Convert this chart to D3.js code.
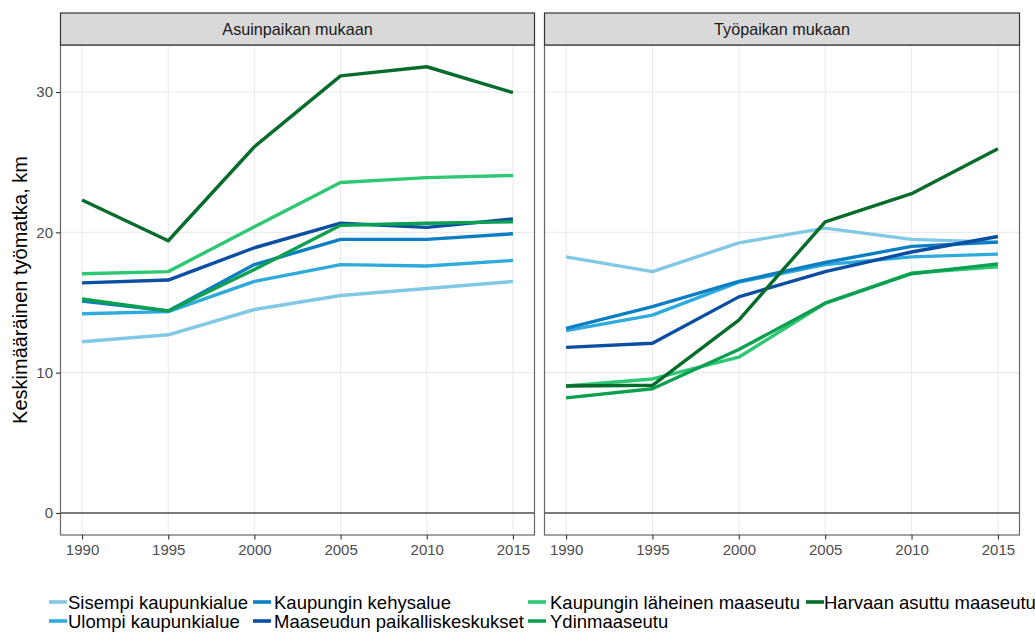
<!DOCTYPE html>
<html><head><meta charset="utf-8">
<script src="https://cdn.jsdelivr.net/npm/d3@7"></script>
<style>body{margin:0;background:#fff;} svg{display:block;font-family:"Liberation Sans",Arial,sans-serif;}</style>
</head><body>
<svg id="c" width="1035" height="633"></svg>
<script>
const years = [1990, 1995, 2000, 2005, 2010, 2015];
const panels = ["Asuinpaikan mukaan", "Työpaikan mukaan"];
const categories = ["Sisempi kaupunkialue", "Ulompi kaupunkialue", "Kaupungin kehysalue",
  "Maaseudun paikalliskeskukset", "Kaupungin läheinen maaseutu", "Ydinmaaseutu", "Harvaan asuttu maaseutu"];
const colors = ["#80C8E4", "#2EABDC", "#0C7FC4", "#0B4EA2", "#2EC773", "#0BA04F", "#066C2B"];
const yTicks = [0, 10, 20, 30];
// Asuinpaikan mukaan
const residence = [
  [12.2, 12.7, 14.5, 15.5, 16.0, 16.5],
  [14.2, 14.35, 16.5, 17.7, 17.6, 18.0],
  [15.1, 14.4, 17.7, 19.5, 19.5, 19.9],
  [16.4, 16.6, 18.9, 20.65, 20.35, 20.95],
  [17.05, 17.2, 20.4, 23.55, 23.9, 24.05],
  [15.25, 14.4, 17.35, 20.5, 20.65, 20.75],
  [22.3, 19.4, 26.1, 31.15, 31.8, 29.95]
];
// Työpaikan mukaan
const workplace = [
  [18.25, 17.2, 19.25, 20.3, 19.5, 19.3],
  [13.0, 14.1, 16.45, 17.7, 18.25, 18.45],
  [13.15, 14.7, 16.5, 17.85, 19.0, 19.3],
  [11.8, 12.1, 15.4, 17.2, 18.6, 19.7],
  [9.05, 9.55, 11.1, 14.95, 17.1, 17.55],
  [8.2, 8.85, 11.65, 14.95, 17.05, 17.75],
  [9.05, 9.1, 13.75, 20.75, 22.75, 25.95]
];
const panelData = [residence, workplace];

const svg = d3.select("#c");
const pTop = 45, pBottom = 535, stripTop = 13;
const panelX = [[60.5, 534.5], [544.5, 1019.5]];
const y = d3.scaleLinear().domain([-1.57, 33.35]).range([pBottom, pTop]);

panelX.forEach((px, pi) => {
  const x = d3.scaleLinear().domain([1988.75, 2016.25]).range(px);
  const g = svg.append("g");
  g.append("rect").attr("x", px[0]).attr("y", pTop).attr("width", px[1]-px[0]).attr("height", pBottom-pTop).attr("fill", "#fff");
  g.selectAll(".gy").data(yTicks).join("line").attr("x1", px[0]).attr("x2", px[1])
    .attr("y1", d => y(d)).attr("y2", d => y(d)).attr("stroke", "#EBEBEB").attr("stroke-width", 1.1);
  g.selectAll(".gx").data(years).join("line").attr("y1", pTop).attr("y2", pBottom)
    .attr("x1", d => x(d)).attr("x2", d => x(d)).attr("stroke", "#EBEBEB").attr("stroke-width", 1.1);
  g.append("line").attr("x1", px[0]).attr("x2", px[1]).attr("y1", y(0)).attr("y2", y(0)).attr("stroke", "#000").attr("stroke-width", 1.1);
  const line = d3.line().x((d, i) => x(years[i])).y(d => y(d));
  panelData[pi].forEach((s, si) => {
    g.append("path").attr("d", line(s)).attr("fill", "none").attr("stroke", colors[si])
      .attr("stroke-width", 3.4).attr("stroke-linejoin", "round").attr("stroke-linecap", "butt");
  });
  g.append("rect").attr("x", px[0]).attr("y", pTop).attr("width", px[1]-px[0]).attr("height", pBottom-pTop)
    .attr("fill", "none").attr("stroke", "#666").attr("stroke-width", 1.2);
  g.append("rect").attr("x", px[0]).attr("y", stripTop).attr("width", px[1]-px[0]).attr("height", pTop-stripTop)
    .attr("fill", "#D9D9D9").attr("stroke", "#333").attr("stroke-width", 1.2);
  g.append("text").attr("x", (px[0]+px[1])/2).attr("y", (stripTop+pTop)/2).attr("dy", "0.36em")
    .attr("text-anchor", "middle").attr("font-size", 16.2).attr("fill", "#1A1A1A").text(panels[pi]);
  const xa = g.append("g").attr("transform", `translate(0,${pBottom})`)
    .call(d3.axisBottom(x).tickValues(years).tickFormat(d3.format("d")).tickSize(4.5).tickPadding(5));
  xa.select(".domain").remove();
  xa.selectAll("line").attr("stroke", "#333").attr("stroke-width", 1.1);
  xa.selectAll("text").attr("font-size", 15).attr("fill", "#4D4D4D").attr("font-family", "Liberation Sans, Arial, sans-serif");
  if (pi === 0) {
    const ya = g.append("g").attr("transform", `translate(${px[0]},0)`)
      .call(d3.axisLeft(y).tickValues(yTicks).tickSize(4.5).tickPadding(3));
    ya.select(".domain").remove();
    ya.selectAll("line").attr("stroke", "#333").attr("stroke-width", 1.1);
    ya.selectAll("text").attr("font-size", 15).attr("fill", "#4D4D4D").attr("font-family", "Liberation Sans, Arial, sans-serif");
  }
});

svg.append("text").attr("transform", `translate(20,${(pTop+pBottom)/2}) rotate(-90)`)
  .attr("text-anchor", "middle").attr("dy", "0.36em").attr("font-size", 20).attr("fill", "#000")
  .text("Keskimääräinen työmatka, km");

const legCols = [[49, 68], [253, 274], [528, 550], [806, 824]];
const legRows = [602, 621];
categories.forEach((c, i) => {
  const col = Math.floor(i / 2), row = i % 2;
  const [kx, tx] = legCols[col];
  const ly = legRows[row];
  svg.append("line").attr("x1", kx).attr("x2", kx + 18).attr("y1", ly).attr("y2", ly)
    .attr("stroke", colors[i]).attr("stroke-width", 3.6);
  svg.append("text").attr("x", tx).attr("y", ly).attr("dy", "0.36em").attr("font-size", 18.5).attr("fill", "#000").text(c);
});
</script>
</body></html>
